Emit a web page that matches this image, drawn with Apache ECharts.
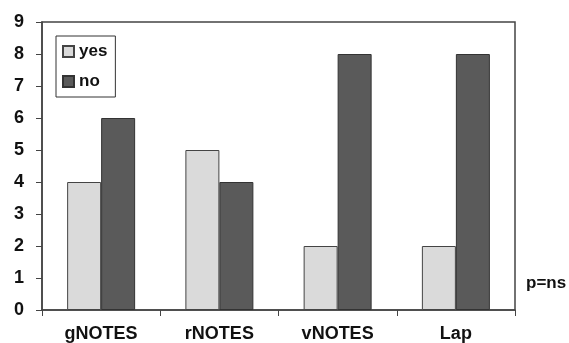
<!DOCTYPE html>
<html><head><meta charset="utf-8">
<script src="https://cdn.jsdelivr.net/npm/echarts@6/dist/echarts.min.js"></script>
<style>html,body{margin:0;padding:0;background:#fff}#c{width:569px;height:343px}</style>
</head><body><div id="c"></div>
<script>
const categories = ['gNOTES', 'rNOTES', 'vNOTES', 'Lap'];
const yesValues = [4, 5, 2, 2];
const noValues = [6, 4, 8, 8];
const yTicks = [0, 9, 1];
const note = 'p=ns';

const chart = echarts.init(document.getElementById('c'));
const font = 'Liberation Sans, Arial, sans-serif';
chart.setOption({
  animation: false,
  backgroundColor: '#fff',
  grid: { left: 42, right: 54, top: 22, bottom: 32, show: true, borderColor: '#444', borderWidth: 1.5 },
  legend: {
    orient: 'vertical', left: 56, top: 36,
    data: ['yes', 'no'],
    icon: 'rect', itemWidth: 11, itemHeight: 11, itemGap: 13,
    padding: [7, 8, 7, 6],
    borderColor: '#333', borderWidth: 1,
    textStyle: { fontFamily: font, fontWeight: 'bold', fontSize: 17, color: '#111' }
  },
  xAxis: {
    type: 'category', data: categories,
    axisLine: { lineStyle: { color: '#444', width: 1.5 } },
    axisTick: { show: true, length: 6, lineStyle: { color: '#444' } },
    axisLabel: { fontFamily: font, fontWeight: 'bold', fontSize: 18, color: '#111', margin: 15 }
  },
  yAxis: {
    type: 'value', min: yTicks[0], max: yTicks[1], interval: yTicks[2],
    splitLine: { show: false },
    axisLine: { show: true, lineStyle: { color: '#444', width: 1.5 } },
    axisTick: { show: true, length: 6, lineStyle: { color: '#444' } },
    axisLabel: { fontFamily: font, fontWeight: 'bold', fontSize: 18, color: '#111', margin: 18 }
  },
  series: [
    { name: 'yes', type: 'bar', data: yesValues, barWidth: 34, barGap: '0%',
      itemStyle: { color: '#dadada', borderColor: '#444', borderWidth: 1 } },
    { name: 'no', type: 'bar', data: noValues, barWidth: 34, barGap: '0%',
      itemStyle: { color: '#5a5a5a', borderColor: '#333', borderWidth: 1 } }
  ],
  graphic: [{
    type: 'text', left: 526, top: 275,
    style: { text: note, fontFamily: font, fontWeight: 'bold', fontSize: 17, fill: '#111' }
  }]
});
</script></body></html>
